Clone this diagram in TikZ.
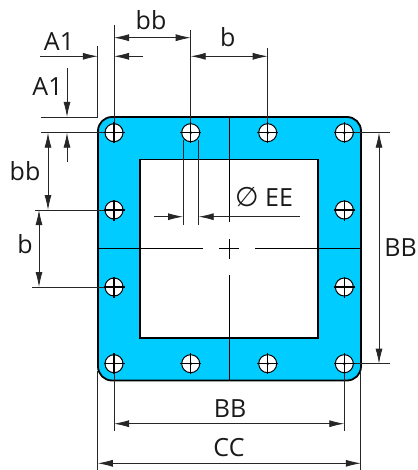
\documentclass[tikz,border=0pt]{standalone}
\usepackage{fontspec}
\setmainfont{Open Sans}
\newfontfamily\symfont{DejaVu Sans}
\usetikzlibrary{arrows.meta}
\definecolor{plate}{HTML}{00CCFF}
\tikzset{
  lbl/.style={font=\fontsize{25}{25}\selectfont,anchor=base,inner sep=0pt,text=black!90},
  thin line/.style={line width=0.8pt,black!85},
  center line/.style={line width=1pt,black},
  dimtip/.style={-{Latex[length=15pt,width=7pt]},line width=0.8pt,black!85},
  dimboth/.style={{Latex[length=15pt,width=7pt]}-{Latex[length=15pt,width=7pt]},line width=0.8pt,black!85},
  hole/.style={circle,draw=black,fill=white,line width=1pt,minimum size=18pt,inner sep=0pt},
  crossline/.style={line width=1.3pt,black}
}
\begin{document}
\begin{tikzpicture}[x=1pt,y=-1pt]
\useasboundingbox (0,0) rectangle (417,470);
% plate
\draw[line width=1.8pt,fill=plate,rounded corners=14pt] (98,117) rectangle (361,380.5);
\draw[line width=1.8pt,fill=white] (140,159.5) rectangle (318,337.7);
% centre lines
\coordinate (ctr) at (229,248.7);
\draw[center line] (229,117) -- (229,221.5);
\draw[center line] (229,275) -- (229,380.5);
\draw[center line] (229,239) -- (229,258.5);
\draw[center line] (219.3,248.7) -- (239.3,248.7);
\draw[center line] (98,248.7) -- (202.7,248.7);
\draw[center line] (255.3,248.7) -- (361,248.7);
% extension lines
\draw[thin line] (114,25) -- (114,133);
\draw[thin line] (190.7,30) -- (190.7,133);
\draw[thin line] (267.7,48) -- (267.7,133);
\draw[thin line] (97.8,46) -- (97.8,117);
\draw[thin line] (41,117) -- (98,117);
\draw[thin line] (41,132.7) -- (114,132.7);
\draw[thin line] (35,210) -- (114,210);
\draw[thin line] (32,287) -- (114,287);
\draw[thin line] (344.3,132.7) -- (389.7,132.7);
\draw[thin line] (344.3,363.7) -- (389.7,363.7);
\draw[thin line] (114,363.7) -- (114,431);
\draw[thin line] (344.3,363.7) -- (344.3,431);
\draw[thin line] (97.8,371) -- (97.8,470);
\draw[thin line] (360.8,371) -- (360.8,470);
\draw[thin line] (183,140) -- (183,224.7);
\draw[thin line] (198.7,140) -- (198.7,224.7);
% holes
\foreach \n/\x/\y in {a/114/132.7,b/190.7/132.7,c/267.7/132.7,d/344.3/132.7,
  e/114/210,f/344.3/210,g/114/287,h/344.3/287,
  i/114/363.7,j/190.7/363.7,k/267.7/363.7,l/344.3/363.7}{
  \node[hole] (h\n) at (\x,\y) {};
  \draw[crossline] (\x-10.5,\y) -- (\x+10.5,\y);
  \draw[crossline] (\x,\y-10.5) -- (\x,\y+10.5);
  \fill (\x,\y) circle (1.5pt);
}
% dimensions
\draw[dimboth] (114,37.7) -- (190.7,37.7);
\draw[dimtip] (40,56.3) -- (97.8,56.3);
\draw[dimtip] (143,56.3) -- (114,56.3);
\draw[dimboth] (190.7,56.3) -- (267.7,56.3);
\draw[dimtip] (67,68) -- (67,117);
\draw[dimtip] (67,162) -- (67,132.7);
\draw[dimboth] (48,132.7) -- (48,210);
\draw[dimboth] (39,210) -- (39,287);
\draw[dimboth] (379,132.7) -- (379,363.7);
\draw[dimboth] (114,423.7) -- (344.3,423.7);
\draw[dimboth] (97.8,463.3) -- (360.8,463.3);
\draw[dimtip] (154,216.7) -- (183,216.7);
\draw[dimtip] (299.7,216.7) -- (198.7,216.7);
% labels
\node[lbl] (t1) at (151,29.5) {bb};
\node[lbl] (t2) at (59,50.7) {A1};
\node[lbl] (t3) at (47.5,95.7) {A1};
\node[lbl] (t4) at (25,180) {bb};
\node[lbl] (t5) at (25,253.7) {b};
\node[lbl] (t6) at (227.7,46.7) {b};
\node[lbl] (t7) at (400.5,256) {BB};
\node[lbl] (t8) at (230,417) {BB};
\node[lbl] (t9) at (229,456.7) {CC};
\node[lbl,anchor=base] (t10s) at (247,206.7) {\symfont\fontsize{27}{27}\selectfont ∅};
\node[lbl] (t10) at (279,206.7) {EE};
\end{tikzpicture}
\end{document}
